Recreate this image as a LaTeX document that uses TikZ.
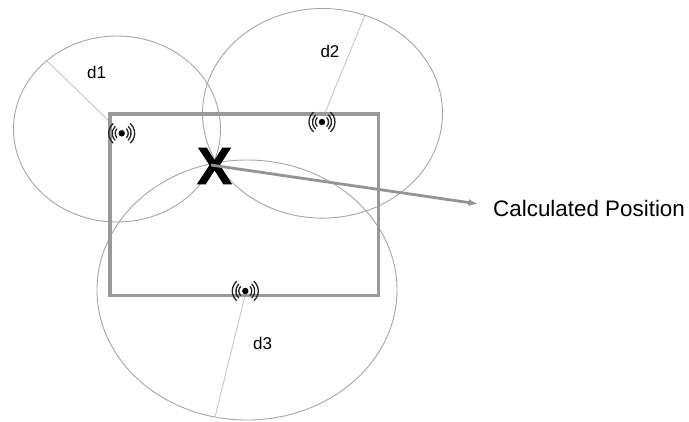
\documentclass[tikz,border=0pt]{standalone}
\usepackage{fontspec}
\usetikzlibrary{arrows.meta}
\setmainfont{Liberation Sans}
\tikzset{
  px/.style={x=1pt,y=-1pt},
  thin gray/.style={draw=black!35,line width=0.9pt},
  radius line/.style={draw=black!22,line width=0.9pt},
  box/.style={draw=black!40,line width=3.2pt},
  lbl/.style={inner sep=0pt,font=\fontsize{17}{18}\selectfont},
  wave/.style={line width=1.3pt,black!85,line cap=round}
}
\newcommand{\antenna}[1]{%
  \fill[black] (#1) circle (3.2pt);
  \foreach \r/\a in {6.5/42,9.5/46,13/48}{
    \draw[wave] (#1) ++(-\a:\r pt) arc[start angle=-\a,end angle=\a,radius=\r pt];
    \draw[wave] (#1) ++(180-\a:\r pt) arc[start angle=180-\a,end angle=180+\a,radius=\r pt];
  }}
\begin{document}
\begin{tikzpicture}[px]
\useasboundingbox (0,0) rectangle (689,421);
\fill[white] (0,0) rectangle (689,421);
\draw[thin gray] (117,129) ellipse [x radius=103.5,y radius=93];
\draw[thin gray] (322.5,113.3) ellipse [x radius=120,y radius=104.8];
\draw[thin gray] (247,290) ellipse [x radius=150,y radius=130];
\coordinate (r1a) at (47,61); \coordinate (r1b) at (109,121);
\coordinate (r2a) at (364.7,15.7); \coordinate (r2b) at (325,113);
\coordinate (r3a) at (245,296); \coordinate (r3b) at (215,417);
\draw[radius line] (r1a) -- (r1b);
\draw[radius line] (r2a) -- (r2b);
\draw[radius line] (r3a) -- (r3b);
\draw[box] (110,114) rectangle (378.3,295.7);
\coordinate (a1) at (121.7,133.3);
\coordinate (a2) at (322,122);
\coordinate (a3) at (245.3,291);
\antenna{a1}\antenna{a2}\antenna{a3}
\node[inner sep=0pt,font=\bfseries\addfontfeature{FakeBold=1.5}\fontsize{52}{52}\selectfont] (x) at (214.5,166) {X};
\node[inner sep=0pt,anchor=west,font=\fontsize{22.4}{24}\selectfont] (calc) at (493,208) {Calculated Position};
\coordinate (start) at (211,165);
\coordinate (tip) at (478.5,204);
\draw[draw=black!42,line width=2.8pt,-{Latex[length=10pt,width=7pt]}] (start) -- (tip);
\node[lbl] (d1) at (96.7,72.3) {d1};
\node[lbl] (d2) at (330,51.7) {d2};
\node[lbl] (d3) at (262.7,343) {d3};
\end{tikzpicture}
\end{document}
